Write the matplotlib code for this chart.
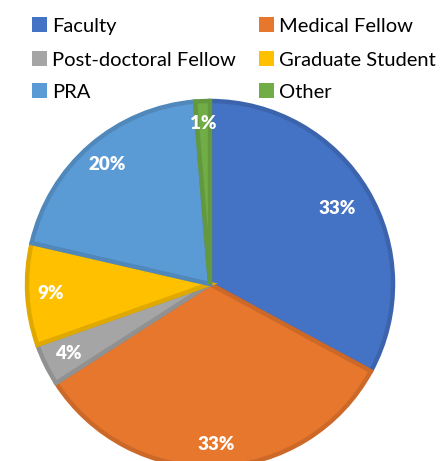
import numpy as np
import matplotlib
matplotlib.use("Agg")
import matplotlib.pyplot as plt
from matplotlib.patches import Rectangle
import matplotlib.colors as mcolors

categories = ["Faculty", "Medical Fellow", "Post-doctoral Fellow",
              "Graduate Student", "PRA", "Other"]
shares = [32.9, 33.0, 3.7, 9.0, 20.1, 1.3]
colors = ["#4472C4", "#E8772E", "#A5A5A5", "#FFC000", "#5B9BD5", "#70AD47"]
label_dist = [0.81, 0.88, 0.86, 0.875, 0.86, 0.88]

plt.rcParams['font.family'] = ['Lato', 'DejaVu Sans']

fig = plt.figure(figsize=(4.48, 4.61), dpi=100)
ax = fig.add_axes([0, 0, 1, 1])

cx, cy, r = 210, 461 - 284, 183

def darker(c, f=0.88):
    rgb = np.array(mcolors.to_rgb(c))
    return tuple(rgb * f)

wedges, _ = ax.pie(shares, colors=colors, startangle=90, counterclock=False,
                   center=(cx, cy), radius=r, frame=True,
                   wedgeprops=dict(linewidth=3.2))
ax.set_xlim(0, 448)
ax.set_ylim(0, 461)
ax.set_aspect('equal')
ax.axis('off')

for w, c, d, v in zip(wedges, colors, label_dist, shares):
    w.set_edgecolor(darker(c))
    w.set_joinstyle('miter')
    ang = np.deg2rad((w.theta1 + w.theta2) / 2)
    x = cx + d * r * np.cos(ang)
    y = cy + d * r * np.sin(ang)
    ax.text(x, y, f"{v:.0f}%", color="white", fontsize=13.5, fontweight="heavy",
            ha="center", va="center")

# legend in two columns
baselines = [32, 66, 98.5]
cols = [32, 259]
for i, (name, c) in enumerate(zip(categories, colors)):
    lx = cols[i % 2]
    by = 461 - baselines[i // 2]
    ax.add_patch(Rectangle((lx, by), 15, 15, facecolor=c, edgecolor='none'))
    ax.text(lx + 20, by, name, fontsize=14.5, color="black",
            ha="left", va="baseline")

fig.savefig("out.png", dpi=100)
